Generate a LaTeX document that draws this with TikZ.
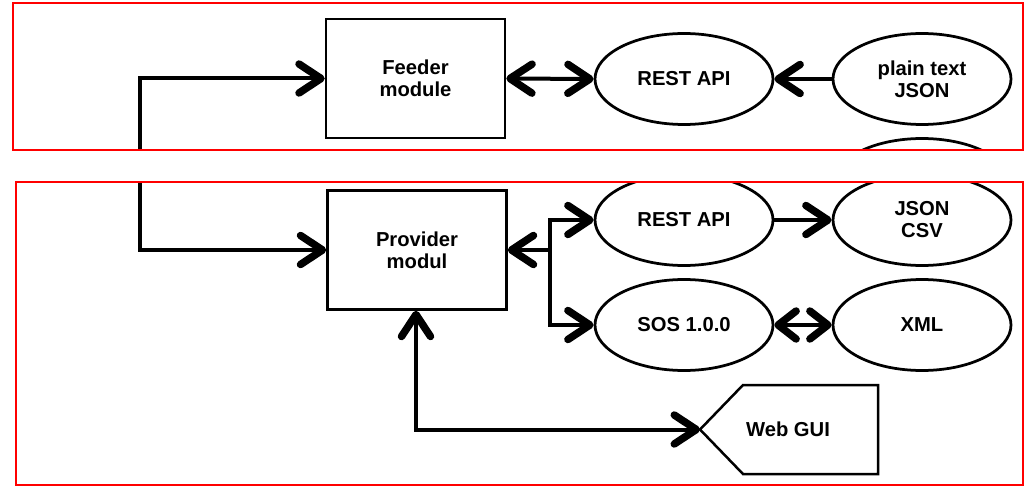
\documentclass[tikz,border=0pt]{standalone}
\usepackage{fontspec}
\setmainfont{Liberation Sans}
\usetikzlibrary{arrows.meta,shapes.geometric}
\begin{document}
\begin{tikzpicture}[x=0.02cm,y=-0.02cm,
  font=\fontsize{11.5}{12.5}\selectfont\bfseries,
  barb/.tip={Straight Barb[length=0.44cm,width=0.58cm,line width=0.15cm,round]},
  sbarb/.tip={Straight Barb[length=0.36cm,width=0.56cm,line width=0.15cm,round]},
  conn/.style={line width=0.08cm, line join=miter, -barb},
  bconn/.style={line width=0.08cm, line join=miter, barb-barb},
  rconn/.style={line width=0.08cm, line join=miter, barb-},
  modbox/.style={draw, line width=0.05cm, minimum width=179*0.02cm, minimum height=119*0.02cm, align=center, inner sep=0pt},
  fmt/.style={draw, ellipse, line width=0.055cm, minimum width=178*0.02cm, minimum height=91*0.02cm, align=center, inner sep=0pt},
  panel/.style={draw=red, line width=0.035cm}]
\useasboundingbox (0,0) rectangle (1027,486);
\fill[white] (0,0) rectangle (1027,486);

% feeder panel
\begin{scope}
  \clip (13,3) rectangle (1023,150);
  \node[modbox] (feeder) at (415.5,78.5) {Feeder\\module};
  \node[fmt] (restin) at (684,79) {REST API};
  \node[fmt] (plain) at (922,79) {plain text\\JSON};
  \node[fmt] (lower) at (922,184) {};
  \coordinate (feedin) at (140,160);
  \draw[conn] (feedin) |- (feeder.west);
  \draw[bconn] (feeder.east) -- (restin.west);
  \draw[conn] (plain.west) -- (restin.east);
\end{scope}
\draw[panel] (13,3) rectangle (1023,150);

% provider panel
\begin{scope}
  \clip (16,182) rectangle (1023,485);
  \node[modbox] (prov) at (417,250) {Provider\\modul};
  \node[fmt] (restout) at (684,220) {REST API};
  \node[fmt] (jsoncsv) at (922,220) {JSON\\CSV};
  \node[fmt] (sos) at (684,325) {SOS 1.0.0};
  \node[fmt] (xml) at (922,325) {XML};
  % Web GUI: pentagon pointing left
  \coordinate (guitip) at (700,429.5);
  \draw[line width=0.05cm, line join=miter] (guitip) -- (743,385) -- (878,385) -- (878,474) -- (743,474) -- cycle;
  \node (web) at (788,429.5) {Web GUI};
  \coordinate (provin) at (140,175);
  \coordinate (split) at (550,250);
  \coordinate (guicorner) at (416,429.5);
  \draw[conn] (provin) |- (prov.west);
  \draw[rconn] (prov.east) -- (split);
  \draw[conn] (split) |- (restout.west);
  \draw[conn] (split) |- (sos.west);
  \draw[conn] (restout.east) -- (jsoncsv.west);
  \draw[line width=0.08cm, sbarb-sbarb] (sos.east) -- (xml.west);
  \draw[bconn] (prov.south -| guicorner) -- (guicorner) -- (guitip);
\end{scope}
\draw[panel] (16,182) rectangle (1023,485);
\end{tikzpicture}
\end{document}
